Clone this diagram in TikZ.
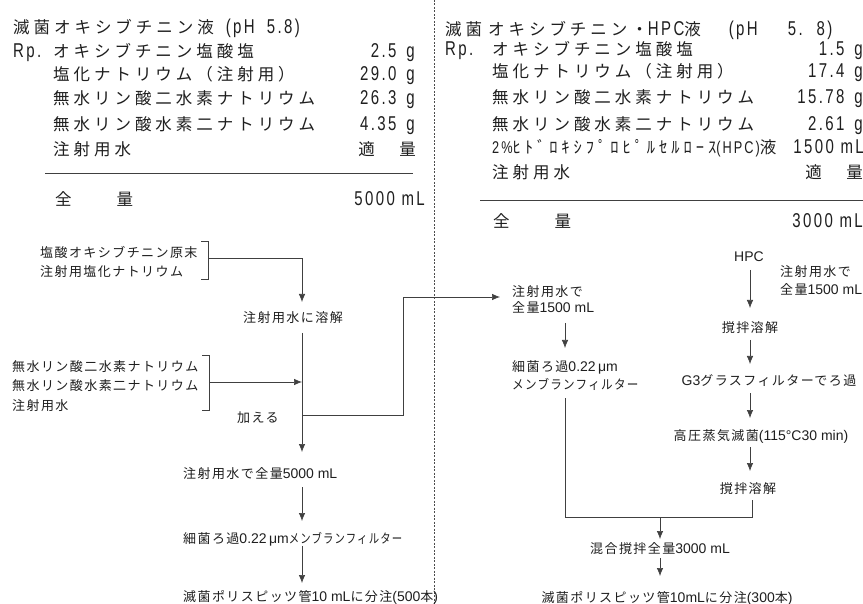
\documentclass[tikz,border=0pt]{standalone}
\usepackage{fontspec}
\usepackage{graphicx}
\usetikzlibrary{arrows.meta}
\newfontfamily\jbig[LetterSpace=24]{Noto Sans CJK JP}
\newfontfamily\jsml[LetterSpace=11]{Noto Sans CJK JP}
\newfontfamily\lbig[FakeStretch=0.75,LetterSpace=12]{Liberation Sans}
\newfontfamily\lsml{Liberation Sans}
\newcommand\bn[1]{{\lbig\fontsize{20}{22}\selectfont #1}}
\newcommand\mn[1]{{\lbig\fontsize{17}{18}\selectfont #1}}
\newcommand\sn[1]{{\lsml\fontsize{14}{15}\selectfont #1}}
\definecolor{ink}{gray}{0.12}
\tikzset{
  big/.style={font=\jbig\fontsize{16.5}{19}\selectfont, inner sep=0pt, anchor=base west, text=ink},
  bigr/.style={big, anchor=base east},
  sml/.style={font=\jsml\fontsize{13}{15}\selectfont, inner sep=0pt, anchor=base west, text=ink},
  smlc/.style={sml, anchor=base},
  ln/.style={line width=0.7pt, draw=black!75},
  arr/.style={ln, -{Latex[length=8pt,width=6.5pt]}},
  sep/.style={line width=0.8pt, draw=black!70, dash pattern=on 2pt off 1.5pt},
}
\begin{document}
\begin{tikzpicture}[x=1pt,y=-1pt]
\fill[white] (0,0) rectangle (863,604);
\useasboundingbox (0,0) rectangle (863,604);

% separator
\coordinate (sepT) at (434,0);
\coordinate (sepB) at (434,604);
\draw[sep] (sepT) -- (sepB);

% ---------- left prescription ----------
\node[big] (lt) at (13,34) {滅菌オキシブチニン液\hspace{12pt}\bn{(pH}\hspace{12pt}\bn{5.8)}};
\node[big] (lrp) at (13,58) {\bn{Rp.}};
\node[big] (l1) at (53,58) {オキシブチニン塩酸塩};
\node[big] (l2) at (53,81) {塩化ナトリウム（注射用）};
\node[big] (l3) at (53,105) {無水リン酸二水素ナトリウム};
\node[big] (l4) at (53,131) {無水リン酸水素二ナトリウム};
\node[big] (l5) at (53,156) {注射用水};
\node[bigr] (v1) at (415,58) {\bn{2.5}\hspace{10pt}\bn{g}};
\node[bigr] (v2) at (415,81) {\bn{29.0}\hspace{10pt}\bn{g}};
\node[bigr] (v3) at (415,105) {\bn{26.3}\hspace{10pt}\bn{g}};
\node[bigr] (v4) at (415,131) {\bn{4.35}\hspace{10pt}\bn{g}};
\node[bigr] (v5) at (416,156) {適　量};
\coordinate (llA) at (45,173);
\coordinate (llB) at (413,173);
\draw[ln] (llA) -- (llB);
\node[big] (lz) at (55,206) {全　　量};
\node[bigr] (lzv) at (425,206) {\bn{5000 mL}};

% ---------- right prescription ----------
\node[big] (rt) at (445,36) {滅菌\hspace{6pt}オキシブチニン・\bn{HPC}液\hspace{28pt}\bn{(pH}\hspace{30pt}\bn{5.}\hspace{14pt}\bn{8)}};
\node[big] (rrp) at (445,56) {\bn{Rp.}};
\node[big] (r1) at (492,56) {オキシブチニン塩酸塩};
\node[big] (r2) at (492,78) {塩化ナトリウム（注射用）};
\node[big] (r3) at (492,104) {無水リン酸二水素ナトリウム};
\node[big] (r4) at (492,131) {無水リン酸水素二ナトリウム};
\node[big] (r5) at (492,154) {\mn{2\%}ﾋﾄﾞﾛｷｼﾌﾟﾛﾋﾟﾙｾﾙﾛｰｽ\mn{(HPC)}液};
\node[big] (r6) at (492,179) {注射用水};
\node[bigr] (w1) at (863,56) {\bn{1.5}\hspace{10pt}\bn{g}};
\node[bigr] (w2) at (863,78) {\bn{17.4}\hspace{10pt}\bn{g}};
\node[bigr] (w3) at (863,104) {\bn{15.78}\hspace{10pt}\bn{g}};
\node[bigr] (w4) at (863,131) {\bn{2.61}\hspace{10pt}\bn{g}};
\node[bigr] (w5) at (864,154) {\bn{1500 mL}};
\node[bigr] (w6) at (863,179) {適　量};
\coordinate (rlA) at (480,200);
\coordinate (rlB) at (863,200);
\draw[ln] (rlA) -- (rlB);
\node[big] (rz) at (493,228) {全　　量};
\node[bigr] (rzv) at (863,228) {\bn{3000 mL}};

% ---------- left flow ----------
\node[sml] (a1) at (40,258) {塩酸オキシブチニン原末};
\node[sml] (a2) at (40,277) {注射用塩化ナトリウム};
\coordinate (b1t) at (201,241);
\coordinate (b1u) at (208,241);
\coordinate (b1d) at (208,279);
\coordinate (b1b) at (201,279);
\draw[ln] (b1t) -- (b1u) -- (b1d) -- (b1b);
\coordinate (b1) at (208,258);
\coordinate (tA) at (302,302);
\draw[arr] (b1) -| (tA);
\node[sml] (dis) at (243,323) {注射用水に溶解};
\coordinate (tB) at (302,333);
\coordinate (tC) at (302,415);
\draw[ln] (tB) -- (tC);

\node[sml] (c1) at (12,372) {無水リン酸二水素ナトリウム};
\node[sml] (c2) at (12,391) {無水リン酸水素二ナトリウム};
\node[sml] (c3) at (12,410) {注射用水};
\coordinate (b2t) at (202,355);
\coordinate (b2u) at (209,355);
\coordinate (b2d) at (209,410);
\coordinate (b2b) at (202,410);
\draw[ln] (b2t) -- (b2u) -- (b2d) -- (b2b);
\coordinate (b2) at (209,382);
\coordinate (tM) at (302,382);
\draw[arr] (b2) -- (tM);
\node[sml] (add) at (237,422) {加える};

\coordinate (k1) at (403,415);
\coordinate (k2) at (403,297);
\coordinate (rin) at (500,297);
\draw[arr] (tC) -- (k1) -- (k2) -- (rin);

\coordinate (tD) at (302,452);
\draw[arr] (tC) -- (tD);
\node[sml] (vol) at (183,478) {注射用水で全量\sn{5000 mL}};
\coordinate (tE) at (302,487);
\coordinate (tF) at (302,521);
\draw[arr] (tE) -- (tF);
\node[sml] (flt) at (183,543) {細菌ろ過\sn{0.22\,μm}\scalebox{0.8}[1]{メンブランフィルター}};
\coordinate (tG) at (302,546);
\coordinate (tH) at (302,583);
\draw[arr] (tG) -- (tH);
\node[sml] (dsp) at (183,601) {滅菌ポリスピッツ管\sn{10 mL}に分注\sn{(500}本\sn{)}};

% ---------- right flow ----------
\node[sml] (p1) at (512,297) {注射用水で};
\node[sml] (p2) at (512,313) {全量\sn{1500 mL}};
\coordinate (pA) at (565,323);
\coordinate (pB) at (565,348);
\draw[arr] (pA) -- (pB);
\node[sml] (p3) at (512,372) {細菌ろ過\sn{0.22\,μm}};
\node[sml] (p4) at (512,389) {\scalebox{0.89}[1]{メンブランフィルター}};
\coordinate (pC) at (565,398);
\coordinate (pD) at (565,517);
\coordinate (qE) at (752,517);
\coordinate (qD) at (752,500);
\draw[ln] (pC) -- (pD) -- (qE) -- (qD);

\node[smlc] (hpc) at (749,262) {\sn{HPC}};
\node[sml] (q0a) at (780,277) {注射用水で};
\node[sml] (q0b) at (780,295) {全量\sn{1500 mL}};
\coordinate (qA1) at (750,270);
\coordinate (qA2) at (750,308);
\draw[arr] (qA1) -- (qA2);
\node[smlc] (q1) at (750,333) {撹拌溶解};
\coordinate (qB1) at (750,340);
\coordinate (qB2) at (750,364);
\draw[arr] (qB1) -- (qB2);
\node[smlc] (q2) at (769,385) {\sn{G3}グラスフィルターでろ過};
\coordinate (qC1) at (750,393);
\coordinate (qC2) at (750,418);
\draw[arr] (qC1) -- (qC2);
\node[smlc] (q3) at (761,440) {高圧蒸気滅菌\sn{(115°C30 min)}};
\coordinate (qF1) at (750,447);
\coordinate (qF2) at (750,471);
\draw[arr] (qF1) -- (qF2);
\node[smlc] (q4) at (748,493) {撹拌溶解};

\coordinate (mA) at (660,517);
\coordinate (mB) at (660,539);
\draw[arr] (mA) -- (mB);
\node[smlc] (mix) at (660,553) {混合撹拌全量\sn{3000 mL}};
\coordinate (mC) at (660,558);
\coordinate (mD) at (660,576);
\draw[arr] (mC) -- (mD);
\node[smlc] (rdsp) at (667,602) {滅菌ポリスピッツ管\sn{10mL}に分注\sn{(300}本\sn{)}};
\end{tikzpicture}
\end{document}
